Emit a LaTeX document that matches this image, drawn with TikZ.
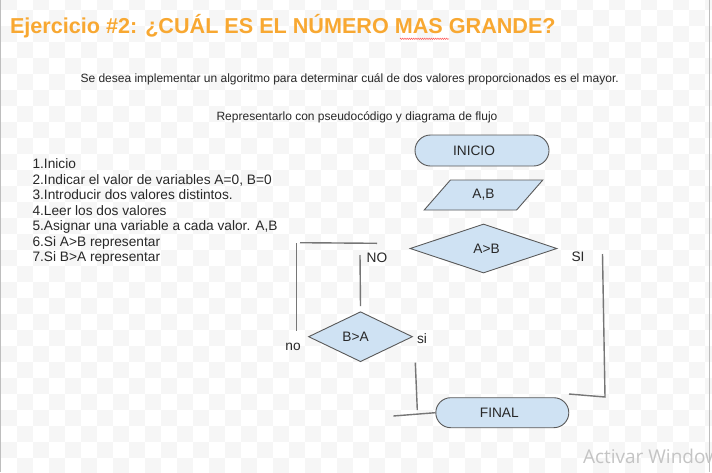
\documentclass[tikz,border=0pt]{standalone}
\usepackage{fontspec}
\setmainfont{Liberation Sans}
\newfontfamily\wmfont{Open Sans}
\usetikzlibrary{shapes.geometric,shapes.misc,decorations.pathmorphing}

\definecolor{titleorange}{RGB}{248,168,50}
\definecolor{boxblue}{RGB}{207,226,243}
\definecolor{boxline}{RGB}{89,89,89}
\definecolor{wireline}{RGB}{118,118,118}
\definecolor{checkgray}{RGB}{246,246,246}
\definecolor{txtgray}{RGB}{40,40,40}
\definecolor{wmgray}{RGB}{196,196,196}
\definecolor{edgegray}{RGB}{190,190,190}

\newcommand\flowfont{\fontsize{13.7}{16}\selectfont}

\tikzset{
  flowbox/.style={draw=boxline, fill=boxblue, line width=0.9pt, inner sep=0pt, font=\flowfont, text=txtgray},
  terminal/.style={flowbox, rounded rectangle, minimum width=134, minimum height=31},
  inputbox/.style={flowbox, trapezium, trapezium left angle=52, trapezium right angle=128,
    trapezium stretches=true, minimum width=119, minimum height=30},
  decision/.style={flowbox, diamond},
  wire/.style={draw=wireline, line width=1.4pt},
  tag/.style={font=\flowfont, text=txtgray},
  paso/.style={anchor=base west, font=\flowfont, text=txtgray}
}

\begin{document}
\begin{tikzpicture}[x=1pt, y=-1pt]
    \useasboundingbox (0,0) rectangle (712,472);
    \clip (0,0) rectangle (712,472);

    % background: checkerboard
    \fill[white] (0,0) rectangle (712,472);
    \foreach \r in {-1,...,29}{
        \foreach \c in {0,...,44}{
            \pgfmathtruncatemacro\chk{mod(\r+\c+2,2)}
            \ifnum\chk=1 \fill[checkgray] (1+16*\c,10+16*\r) rectangle ++(16,16); \fi
        }
    }
    \draw[edgegray, line width=1.2pt] (0.6,0) -- (0.6,472);
    \draw[edgegray, line width=1.2pt] (709.5,0) -- (709.5,472);

    % Title and statement
    \node[anchor=base west, font=\bfseries\fontsize{21.6}{25}\selectfont, text=titleorange] (titulo) at (6.5,33.3)
        {Ejercicio \#2: ¿CUÁL ES EL NÚMERO MAS GRANDE?};
    \draw[red!65, line width=0.5pt, decorate, decoration={zigzag, segment length=2.2pt, amplitude=0.7pt}] (400,38.8) -- (449,38.8);
    \node[anchor=base, font=\fontsize{12}{14}\selectfont, text=txtgray] (enunciado) at (349.7,82.3)
        {Se desea implementar un algoritmo para determinar cuál de dos valores proporcionados es el mayor.};
    \node[anchor=base, font=\fontsize{12}{14}\selectfont, text=txtgray] (consigna) at (357,120)
        {Representarlo con pseudocódigo y diagrama de flujo};

    % Pseudocode
    \foreach \linea [count=\i] in {1.Inicio, 2.Indicar el valor de variables A=0{,} B=0,
        3.Introducir dos valores distintos., 4.Leer los dos valores,
        5.Asignar una variable a cada valor. A{,}B, 6.Si A>B representar, 7.Si B>A representar}
        \node[paso] (paso\i) at (29,168.5+15.55*\i-15.55) {\linea};

    % Flowchart shapes
    \node[terminal] (inicio) at (482,150.5) {INICIO\hspace*{16pt}};
    \node[inputbox] (datos) at (483.5,195) {A,B};
    \node[decision, minimum width=147, minimum height=49] (ab) at (483.5,248.5) {\hspace*{6pt}A>B};
    \node[decision, minimum width=104, minimum height=50] (ba) at (360.5,336.7) {B>A\hspace*{10pt}};
    \node[terminal, minimum width=133, minimum height=30] (final) at (502.3,412.7) {FINAL\hspace*{6pt}};

    % Branch labels
    \node[tag] (lblNO) at (377,258) {NO};
    \node[tag] (lblSI) at (578,257) {SI};
    \node[tag] (lblsi) at (422,339) {si};
    \node[tag] (lblno) at (293,347) {no};

    % SI branch: loose strokes down to FINAL
    \coordinate (siTop) at (602.5,254);
    \coordinate (siCorner) at (605,397);
    \coordinate (siEnd) at (569,394);
    \draw[wire] (siTop) -- (siCorner) -- (siEnd);

    % NO branch: loose strokes on the left
    \coordinate (noRight) at (377,243.3);
    \coordinate (noLeft) at (300,242.7);
    \coordinate (noTop) at (296.7,243.3);
    \coordinate (noBottom) at (296.7,331);
    \draw[wire] (noLeft) -- (noRight);
    \draw[wire] (noTop) -- (noBottom);
    \coordinate (noDownTop) at (360,255);
    \coordinate (noDownEnd) at (360.5,306);
    \draw[wire] (noDownTop) -- (noDownEnd);

    % si branch of B>A
    \coordinate (siDownTop) at (415.3,362.7);
    \coordinate (siDownEnd) at (417.3,410);
    \draw[wire] (siDownTop) -- (siDownEnd);
    \coordinate (finalIn) at (393.3,416);
    \draw[wire] (finalIn) -- (final.west);

    % watermark
    \node[anchor=base west, font=\wmfont\fontsize{19}{22}\selectfont, text=wmgray] (marca) at (579.5,463.3) {Activar Windows};
\end{tikzpicture}
\end{document}
